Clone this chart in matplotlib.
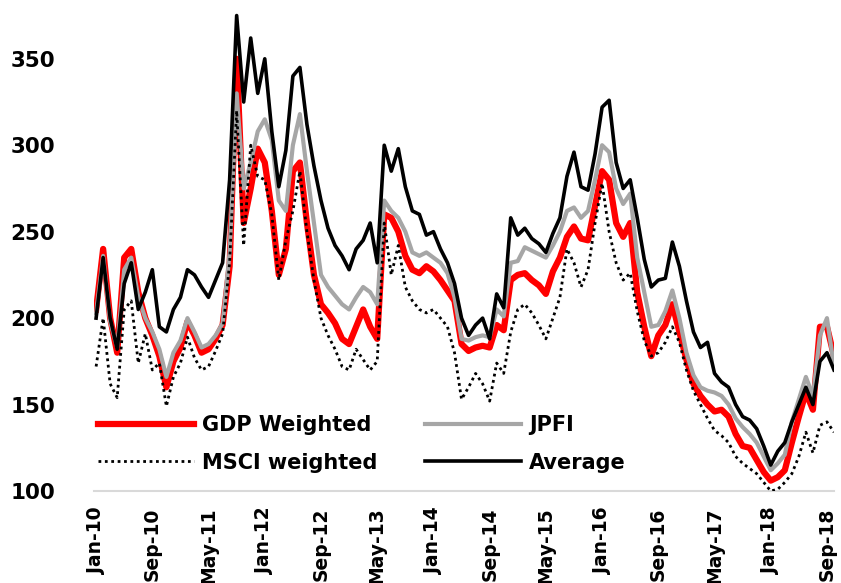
import numpy as np
import matplotlib
matplotlib.use("Agg")
import matplotlib.pyplot as plt

# monthly readings, Jan-10 .. Oct-18
gdp_weighted = [
    205, 240, 200, 180, 235, 240, 215, 200, 190, 178, 160, 175,
    183, 198, 190, 180, 182, 188, 196, 230, 350, 255, 275, 298,
    290, 262, 225, 240, 285, 290, 255, 225, 208, 203, 197, 188,
    185, 195, 205, 195, 188, 260, 258, 250, 236, 228, 226, 230,
    227, 222, 216, 210, 185, 181, 183, 184, 183, 196, 193, 222,
    225, 226, 222, 219, 214, 227, 235, 247, 253, 246, 245, 265,
    285, 280, 255, 247, 255, 215, 195, 178, 190, 196, 208, 192,
    176, 162, 155, 150, 146, 147, 143, 133, 126, 125, 118, 111,
    106, 108, 112, 128, 143, 157, 147, 195, 195, 178,
]
jpfi = [
    203, 236, 198, 183, 228, 235, 212, 200, 192, 182, 166, 180,
    187, 200, 192, 183, 185, 190, 197, 238, 330, 275, 290, 308,
    315, 303, 268, 262, 300, 318, 285, 255, 225, 218, 213, 208,
    205, 212, 218, 215, 208, 268, 262, 258, 250, 238, 236, 238,
    235, 232, 226, 212, 188, 187, 189, 190, 189, 205, 201, 232,
    233, 241, 239, 237, 235, 242, 250, 262, 264, 258, 262, 280,
    300, 296, 275, 266, 272, 235, 215, 195, 196, 204, 216, 200,
    180, 167, 160, 158, 157, 155, 150, 142, 137, 133, 128, 120,
    112, 116, 121, 140, 153, 166, 155, 190, 200, 172,
]
msci_weighted = [
    172, 200, 162, 154, 205, 210, 174, 191, 170, 174, 149, 166,
    174, 189, 177, 170, 172, 181, 191, 232, 320, 242, 300, 282,
    280, 260, 222, 245, 262, 285, 250, 222, 200, 190, 182, 172,
    170, 182, 176, 170, 175, 255, 225, 242, 218, 210, 205, 203,
    205, 200, 195, 180, 153, 160, 168, 162, 152, 174, 168, 192,
    205, 208, 203, 196, 188, 200, 212, 240, 232, 218, 228, 255,
    278, 250, 232, 222, 226, 204, 187, 178, 180, 186, 195, 186,
    170, 158, 150, 142, 135, 132, 128, 120, 116, 113, 110, 105,
    100, 101, 105, 110, 120, 134, 122, 138, 140, 134,
]
average = [
    200, 235, 200, 182, 220, 232, 205, 215, 228, 195, 192, 205,
    212, 228, 225, 218, 212, 222, 232, 280, 375, 325, 362, 330,
    350, 308, 276, 297, 340, 345, 312, 288, 268, 252, 242, 236,
    228, 240, 245, 255, 232, 300, 285, 298, 276, 262, 260, 248,
    250, 240, 232, 220, 200, 190, 196, 200, 188, 214, 206, 258,
    248, 252, 246, 243, 238, 249, 258, 282, 296, 276, 274, 295,
    322, 326, 290, 275, 280, 258, 234, 218, 222, 223, 244, 230,
    210, 192, 183, 186, 168, 163, 160, 150, 143, 141, 136, 126,
    115, 123, 128, 140, 150, 160, 150, 175, 180, 170,
]
tick_labels = ["Jan-10", "Sep-10", "May-11", "Jan-12", "Sep-12", "May-13", "Jan-14",
               "Sep-14", "May-15", "Jan-16", "Sep-16", "May-17", "Jan-18", "Sep-18"]

x = np.arange(len(average))

fig = plt.figure(figsize=(8.41, 5.83), dpi=100)
ax = fig.add_axes([94 / 841, 92 / 583, 740 / 841, 491 / 583])

l_gdp, = ax.plot(x, gdp_weighted, color="#FF0000", lw=4.5, solid_joinstyle="round", zorder=2)
l_jpfi, = ax.plot(x, jpfi, color="#A6A6A6", lw=3, zorder=3)
l_msci, = ax.plot(x, msci_weighted, color="black", lw=2, ls=(0, (1, 1.3)), zorder=4)
l_avg, = ax.plot(x, average, color="black", lw=2.6, zorder=5)

ax.set_xlim(-0.3, 105)
ax.set_ylim(100, 384)
ax.set_yticks([100, 150, 200, 250, 300, 350])
ax.set_xticks(np.arange(0, 105, 8))
ax.set_xticklabels(tick_labels, rotation=90)

for s in ["top", "right", "left"]:
    ax.spines[s].set_visible(False)
ax.spines["bottom"].set_color("#D9D9D9")
ax.spines["bottom"].set_linewidth(1.5)

ax.tick_params(axis="y", length=0, pad=28)
ax.tick_params(axis="x", length=0, pad=12)
for lab in ax.get_yticklabels():
    lab.set_fontsize(15.5)
    lab.set_fontweight("bold")
for lab in ax.get_xticklabels():
    lab.set_fontsize(13.5)
    lab.set_fontweight("bold")

leg = ax.legend([l_gdp, l_msci, l_jpfi, l_avg],
                ["GDP Weighted", "MSCI weighted", "JPFI", "Average"],
                ncol=2, frameon=False, loc="center left",
                bbox_to_anchor=(0.005, 0.096), borderaxespad=0, borderpad=0,
                handlelength=4.6, handletextpad=0.4, columnspacing=2.3,
                labelspacing=0.85, prop={"weight": "bold", "size": 15})

fig.savefig("out.png", dpi=100)
